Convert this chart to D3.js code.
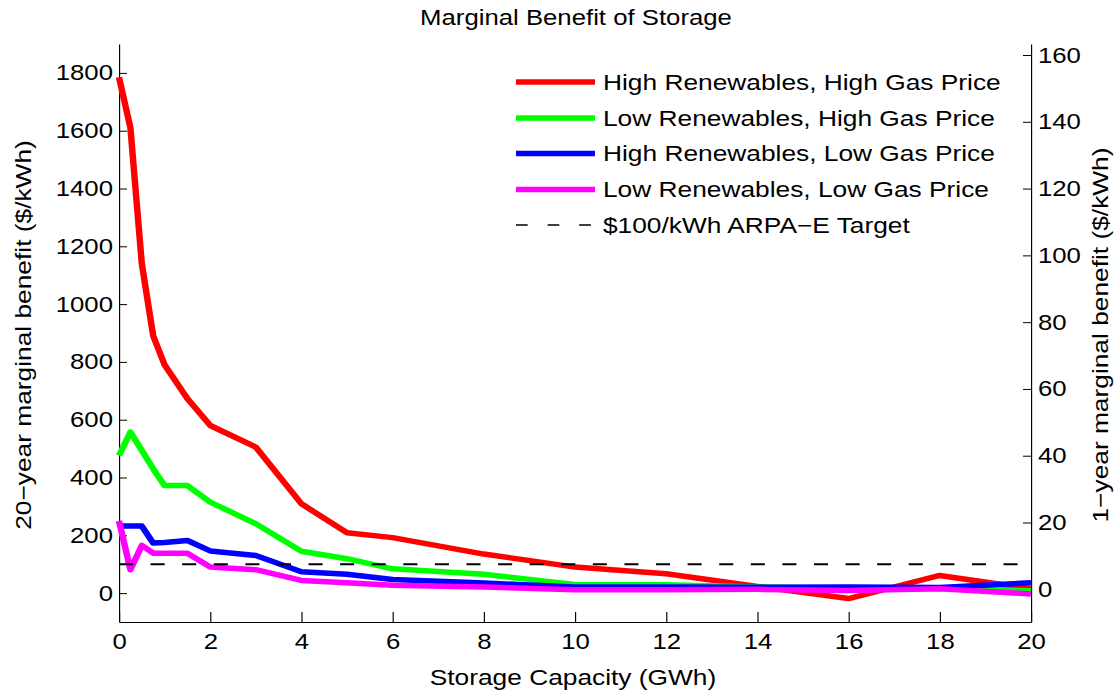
<!DOCTYPE html>
<html>
<head>
<meta charset="utf-8">
<script src="https://cdn.jsdelivr.net/npm/d3@7"></script>
<style>
  body { margin: 0; background: #fff; }
  svg { display: block; }
  text { font-family: 'Liberation Sans', Arial, Helvetica, sans-serif; fill: #000; }
</style>
</head>
<body>
<div id="chart"></div>
<script>
// Storage capacity (GWh) sampled for every scenario.
var capacity = [0, 0.25, 0.5, 0.75, 1, 1.5, 2, 3, 4, 5, 6, 8, 10, 12, 14, 16, 18, 20];

// 20-year marginal benefit ($/kWh).
var highRenHighGas = [1785, 1610, 1140, 890, 790, 673, 580, 505, 309, 209, 192, 135, 90, 67, 23, -19, 61, 15];
var lowRenHighGas  = [476, 557, 494, 430, 372, 372, 315, 240, 145, 119, 84, 65, 30, 29, 21, 16, 16, 8];
var highRenLowGas  = [232, 232, 232, 173, 175, 182, 146, 130, 74, 65, 47, 35, 21, 21, 20, 21, 19, 36];
var lowRenLowGas   = [250, 81, 165, 138, 138, 138, 90, 81, 44, 36, 27, 21, 12, 12, 13, 9, 15, -3];

var seriesNames = ['High Renewables, High Gas Price', 'Low Renewables, High Gas Price',
                   'High Renewables, Low Gas Price', 'Low Renewables, Low Gas Price'];
var seriesColors = ['#ff0000', '#00ff00', '#0000ff', '#ff00ff'];
var targetName = '$100/kWh ARPA\u2212E Target';
var targetValue = 100;

var xTicks = [0, 2, 4, 6, 8, 10, 12, 14, 16, 18, 20];
var leftTicks = [0, 200, 400, 600, 800, 1000, 1200, 1400, 1600, 1800];
var rightTicks = [0, 20, 40, 60, 80, 100, 120, 140, 160];

// The glyphs in the picture run wide along their reading direction: draw in a
// narrower view box and let the svg stretch it horizontally.
var WIDTH = 1116, HEIGHT = 692;
var SX = 1.17;
var VW = WIDTH / SX;
function px(v) { return v / SX; }

var LEFT = 119, RIGHT = 1031, TOP = 44, BOTTOM = 622;

var svg = d3.select('#chart').append('svg')
  .attr('width', WIDTH)
  .attr('height', HEIGHT)
  .attr('viewBox', '0 0 ' + VW + ' ' + HEIGHT)
  .attr('preserveAspectRatio', 'none');

var x = d3.scaleLinear().domain([0, 20]).range([px(LEFT), px(RIGHT)]);
var yL = d3.scaleLinear().domain([-100, 1900]).range([BOTTOM, TOP]);
var yR = d3.scaleLinear().domain([-9.8, 163.3]).range([BOTTOM, TOP]);

function styleAxis(g) {
  g.attr('font-size', null).attr('font-family', null);
  g.selectAll('text').style('font-size', '22px');
  g.selectAll('line, path').attr('stroke', '#000').attr('stroke-width', 1);
}

svg.append('g')
  .attr('transform', 'translate(0,' + BOTTOM + ')')
  .call(d3.axisBottom(x).tickValues(xTicks).tickFormat(d3.format('d'))
    .tickSize(-10).tickSizeOuter(0).tickPadding(11))
  .call(styleAxis);

svg.append('g')
  .attr('transform', 'translate(' + px(LEFT) + ',0)')
  .call(d3.axisLeft(yL).tickValues(leftTicks).tickFormat(d3.format('d'))
    .tickSize(-px(8)).tickSizeOuter(0).tickPadding(px(6)))
  .call(styleAxis);

svg.append('g')
  .attr('transform', 'translate(' + px(RIGHT) + ',0)')
  .call(d3.axisRight(yR).tickValues(rightTicks).tickFormat(d3.format('d'))
    .tickSize(-px(8)).tickSizeOuter(0).tickPadding(px(7)))
  .call(styleAxis);

// Data lines
var series = [highRenHighGas, lowRenHighGas, highRenLowGas, lowRenLowGas];
var line = d3.line()
  .x(function(d, i) { return x(capacity[i]); })
  .y(function(d) { return yL(d); });

svg.append('g').selectAll('path.series')
  .data(series)
.enter().append('path')
  .attr('class', 'series')
  .attr('d', line)
  .attr('fill', 'none')
  .attr('stroke', function(d, i) { return seriesColors[i]; })
  .attr('stroke-width', 5.5)
  .attr('stroke-linejoin', 'round');

// ARPA-E target
svg.append('line')
  .attr('x1', x(0)).attr('x2', x(20))
  .attr('y1', yL(targetValue)).attr('y2', yL(targetValue))
  .attr('stroke', '#000')
  .attr('stroke-width', 2)
  .attr('stroke-dasharray', '12,15');

// Legend
var legendRows = [82, 118, 153.5, 189.5, 225];
var legend = svg.append('g');
seriesNames.forEach(function(name, i) {
  legend.append('line')
    .attr('x1', px(516)).attr('x2', px(595))
    .attr('y1', legendRows[i]).attr('y2', legendRows[i])
    .attr('stroke', seriesColors[i])
    .attr('stroke-width', 5.5);
  legend.append('text')
    .attr('x', px(603)).attr('y', legendRows[i])
    .attr('dy', '0.35em')
    .style('font-size', '22.5px')
    .text(name);
});
legend.append('line')
  .attr('x1', px(516)).attr('x2', px(595))
  .attr('y1', legendRows[4]).attr('y2', legendRows[4])
  .attr('stroke', '#000')
  .attr('stroke-width', 1.5)
  .attr('stroke-dasharray', '10,17');
legend.append('text')
  .attr('x', px(603)).attr('y', legendRows[4])
  .attr('dy', '0.35em')
  .style('font-size', '22.5px')
  .text(targetName);

// Titles
svg.append('text')
  .attr('x', px(576)).attr('y', 25)
  .attr('text-anchor', 'middle')
  .style('font-size', '22px')
  .text('Marginal Benefit of Storage');

svg.append('text')
  .attr('x', px(573)).attr('y', 685)
  .attr('text-anchor', 'middle')
  .style('font-size', '22.5px')
  .text('Storage Capacity (GWh)');

// Vertical titles: undo the view box stretch, then widen along the reading direction.
function verticalTitle(xBase, text) {
  svg.append('text')
    .attr('transform', 'translate(' + px(xBase) + ',335) scale(' + (1 / SX) + ',1) rotate(-90) scale(' + SX + ',1)')
    .attr('text-anchor', 'middle')
    .style('font-size', '22.5px')
    .text(text);
}
verticalTitle(31, '20\u2212year marginal benefit ($/kWh)');
verticalTitle(1108, '1\u2212year marginal benefit ($/kWh)');
</script>
</body>
</html>
